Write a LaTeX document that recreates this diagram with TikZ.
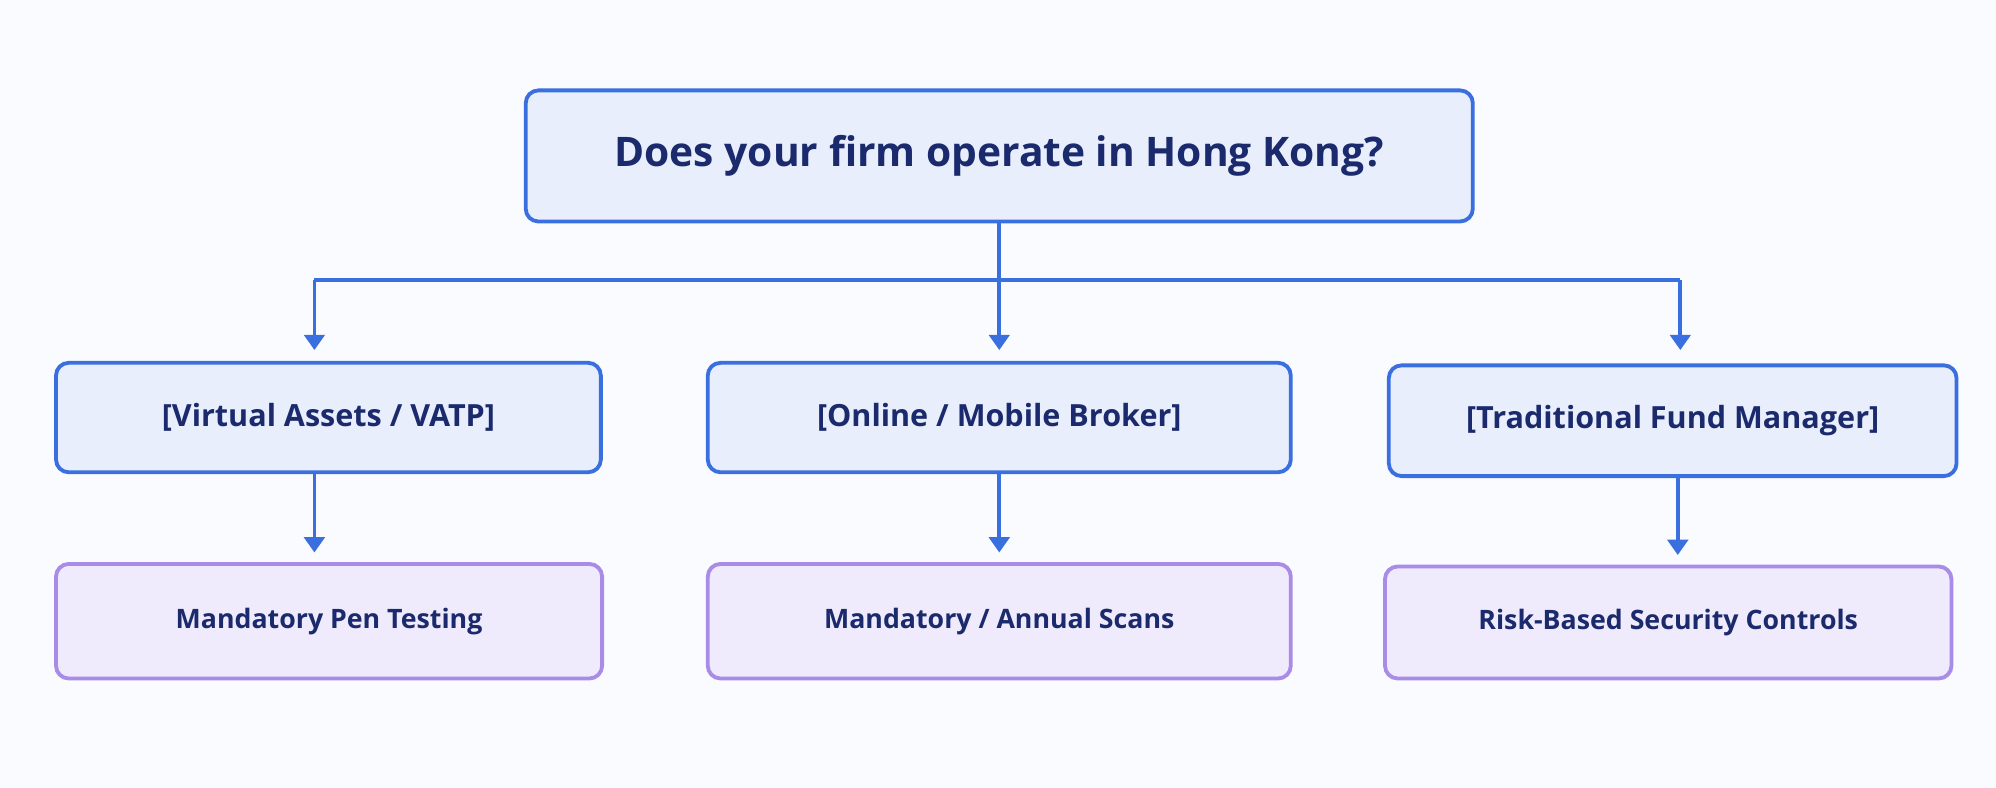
\documentclass[tikz,border=0pt]{standalone}
\usepackage{fontspec}
\setmainfont{Open Sans}
\usetikzlibrary{arrows.meta}
\definecolor{bl}{HTML}{3A6FE0}
\definecolor{blf}{HTML}{E8EEFC}
\definecolor{pu}{HTML}{A98BE8}
\definecolor{puf}{HTML}{EFEAFC}
\definecolor{tx}{HTML}{1A2A6C}
\definecolor{bg}{HTML}{FAFBFE}
\begin{document}
\begin{tikzpicture}[x=1pt,y=-1pt,
 box/.style={draw=bl,fill=blf,line width=3pt,rounded corners=10pt,text=tx,font=\fontsize{24}{28}\selectfont\bfseries,inner sep=0pt},
 res/.style={draw=pu,fill=puf,line width=3pt,rounded corners=10pt,text=tx,font=\fontsize{21}{25}\selectfont\bfseries,inner sep=0pt},
 ar/.style={draw=bl,line width=3pt,-{Triangle[length=12pt,width=16pt]}}]
\fill[bg] (0,0) rectangle (1568,619);
\useasboundingbox (0,0) rectangle (1568,619);
\node[box,minimum width=744pt,minimum height=103pt,font=\fontsize{32}{36}\selectfont\bfseries] (q) at (785,122.5) {Does your firm operate in Hong Kong?};
\node[box,minimum width=428pt,minimum height=86pt] (a) at (258,328) {[Virtual Assets / VATP]};
\node[box,minimum width=458pt,minimum height=86pt] (b) at (785,328) {[Online / Mobile Broker]};
\node[box,minimum width=446pt,minimum height=87pt] (c) at (1314,330.5) {[Traditional Fund Manager]};
\node[res,minimum width=429pt,minimum height=90pt] (ra) at (258.5,488) {Mandatory Pen Testing};
\node[res,minimum width=458pt,minimum height=90pt] (rb) at (785,488) {Mandatory / Annual Scans};
\node[res,minimum width=445pt,minimum height=88pt] (rc) at (1310.5,489) {Risk-Based Security Controls};
\coordinate (j) at (785,220);
\draw[draw=bl,line width=3pt] (q.south) -- (j);
\draw[draw=bl,line width=3pt] (247,220) -- (1320,220);
\draw[ar] (247,220) -- (247,275);
\draw[ar] (j) -- (785,275);
\draw[ar] (1320,220) -- (1320,275);
\draw[ar] (a.south -| 247,0) -- (247,434);
\draw[ar] (b.south) -- (785,434);
\draw[ar] (c.south -| 1318,0) -- (1318,436);
\end{tikzpicture}
\end{document}
